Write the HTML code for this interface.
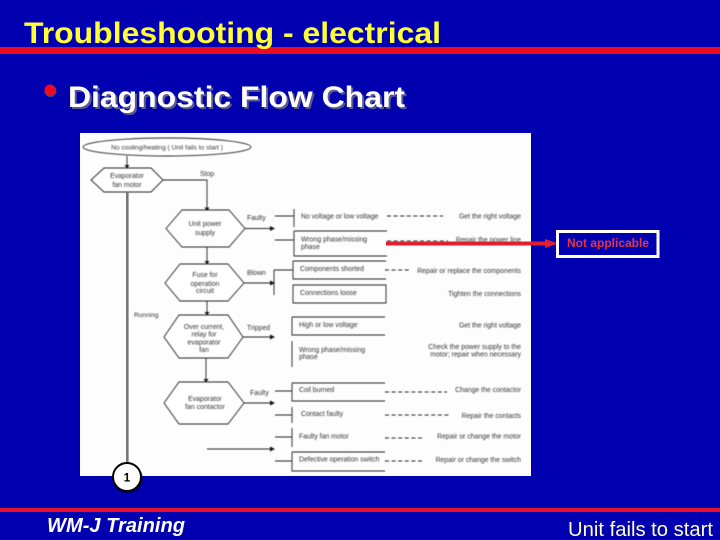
<!DOCTYPE html>
<html><head><meta charset="utf-8"><style>
html,body{margin:0;padding:0;background:#0000b0;width:720px;height:540px;overflow:hidden}
svg{display:block;position:absolute;left:0;top:0}
text{font-family:"Liberation Sans",sans-serif}
#d{filter:blur(0.45px)}
#d text{font-size:6.900px;fill:#333}
#d .r{text-anchor:end}
#d .m{text-anchor:middle}
#d polygon,#d .b{fill:#fff;stroke:#222;stroke-width:.9}
#d path,#d line{stroke:#222;stroke-width:.9;fill:none}
#d .dash{stroke:#222;stroke-dasharray:4 2.6}
#d .ah{fill:#111;stroke:none}
</style></head><body>
<svg width="720" height="540" viewBox="0 0 720 540" xmlns="http://www.w3.org/2000/svg">
<rect width="720" height="540" fill="#0000b0"/>
<rect x="0" y="47" width="720" height="7" fill="#ee0a20"/>
<rect x="0" y="508" width="720" height="4" fill="#e8102c"/>
<text x="24" y="43" font-size="30" font-weight="700" fill="#ffff33" textLength="417" lengthAdjust="spacingAndGlyphs">Troubleshooting - electrical</text>
<circle cx="50.500" cy="91" r="6" fill="#666" fill-opacity=".7"/>
<circle cx="50" cy="90" r="5.500" fill="#f00a1e"/>
<text x="70" y="109" font-size="30" font-weight="700" fill="#5a5a90" textLength="337" lengthAdjust="spacingAndGlyphs">Diagnostic Flow Chart</text>
<text x="68" y="107" font-size="30" font-weight="700" fill="#ffffff" textLength="337" lengthAdjust="spacingAndGlyphs">Diagnostic Flow Chart</text>
<rect x="80" y="133" width="451" height="343" fill="#fdfdfd"/>
<g id="d">
<ellipse class="b" cx="167" cy="147" rx="84" ry="9"/>
<text class="m" x="167" y="149.500" style="font-size:6.600px">No cooling/heating ( Unit fails to start )</text>
<path d="M127 156V166"/><path class="ah" d="M124.500 165h5l-2.500 3.500z"/>
<polygon points="91,180 104,168 151,168 163,180 151,192 104,192"/>
<text class="m" x="127" y="178">Evaporator</text><text class="m" x="127" y="187">fan motor</text>
<text x="200" y="176">Stop</text>
<path d="M163 180H207V208"/><path class="ah" d="M204.500 207.500h5l-2.500 3.500z"/>
<polygon points="166,228.500 182,210 229,210 245,228.500 229,247 182,247"/>
<text class="m" x="205" y="226">Unit power</text><text class="m" x="205" y="235">supply</text>
<path d="M207 247V262"/><path class="ah" d="M204.500 261h5l-2.500 3.500z"/>
<polygon points="165,283 180,264 228,264 244,283 228,301 180,301"/>
<text class="m" x="205" y="277">Fuse for</text><text class="m" x="205" y="286">operation</text><text class="m" x="205" y="293">circuit</text>
<path d="M207 301V313"/><path class="ah" d="M204.500 312h5l-2.500 3.500z"/>
<polygon points="164,337 179,315 228,315 243,337 228,358 179,358"/>
<text class="m" x="204" y="329">Over current,</text><text class="m" x="204" y="336.500">relay for</text><text class="m" x="204" y="344.500">evaporator</text><text class="m" x="204" y="352">fan</text>
<path d="M206 358V380"/><path class="ah" d="M203.500 379h5l-2.500 3.500z"/>
<polygon points="164,403 179,382 228,382 244,403 228,424 179,424"/>
<text class="m" x="205" y="401">Evaporator</text><text class="m" x="205" y="409">fan contactor</text>
<text x="134" y="317" style="font-size:6.600px">Running</text>
<text x="247" y="220">Faulty</text><text x="247" y="275">Blown</text><text x="247" y="330">Tripped</text><text x="250" y="395">Faulty</text>
<path d="M245 228.500H271M244 283H271M243 337H271M244 403H271M207 449H271"/>
<path class="ah" d="M270 226l5 2.500-5 2.500zM270 280.500l5 2.500-5 2.500zM270 334.500l5 2.500-5 2.500zM270 400.500l5 2.500-5 2.500zM270 446.500l5 2.500-5 2.500z"/>
<path d="M275 216H294M294 209V227M275 240H294M294 231H387M294 231V256H387M274 270V295M274 270H293M293 261H386M293 261V279H386"/>
<path d="M293 285H386V303H293Z"/>
<path d="M292 317H385M292 317V335H385M292 341V367"/>
<path d="M275 391H292M292 383H385M292 383V401H385M275 415H292M292 407V423M275 437H292M292 428V447M275 461H292M292 452H385M292 452V471H385"/>
<line class="dash" x1="387" y1="216" x2="443" y2="216"/>
<line class="dash" x1="387" y1="241" x2="448" y2="241"/>
<line class="dash" x1="385" y1="270" x2="410" y2="270"/>
<line class="dash" x1="385" y1="392" x2="447" y2="392"/>
<line class="dash" x1="385" y1="415" x2="451" y2="415"/>
<line class="dash" x1="385" y1="438" x2="424" y2="438"/>
<line class="dash" x1="385" y1="461" x2="424" y2="461"/>
<text x="301" y="218.500">No voltage or low voltage</text>
<text x="301" y="241.500">Wrong phase/missing</text><text x="301" y="249">phase</text>
<text x="300" y="271">Components shorted</text>
<text x="300" y="295">Connections loose</text>
<text x="299" y="327">High or low voltage</text>
<text x="299" y="352">Wrong phase/missing</text><text x="299" y="359">phase</text>
<text x="299" y="392">Coil burned</text>
<text x="301" y="416">Contact faulty</text>
<text x="299" y="438.500">Faulty fan motor</text>
<text x="299" y="461.500">Defective operation switch</text>
<text class="r" x="521" y="218.500">Get the right voltage</text>
<text class="r" x="521" y="242">Repair the power line</text>
<text class="r" x="521" y="273">Repair or replace the components</text>
<text class="r" x="521" y="296">Tighten the connections</text>
<text class="r" x="521" y="327.500">Get the right voltage</text>
<text class="r" x="521" y="349">Check the power supply to the</text>
<text class="r" x="521" y="356.500">motor; repair when necessary</text>
<text class="r" x="521" y="392">Change the contactor</text>
<text class="r" x="521" y="418">Repair the contacts</text>
<text class="r" x="521" y="438.500">Repair or change the motor</text>
<text class="r" x="521" y="462">Repair or change the switch</text>
</g>
<rect x="126" y="192" width="2.600" height="272" fill="#777"/>
<rect x="386" y="241.500" width="160" height="4" fill="#e0202c"/>
<polygon points="545,239 558,243.500 545,248" fill="#e0202c"/>
<rect x="557.500" y="231.500" width="100.500" height="25" fill="#0000b0" stroke="#fff" stroke-width="3"/>
<text x="608" y="247" text-anchor="middle" font-size="12" font-weight="700" fill="#e03848">Not applicable</text>
<circle cx="128" cy="479" r="15" fill="#000050" fill-opacity=".6"/>
<circle cx="127" cy="477" r="14" fill="#fff" stroke="#000" stroke-width="2"/>
<text x="127" y="481.500" text-anchor="middle" font-size="12" font-weight="700" fill="#000">1</text>
<text x="47" y="532" font-size="20" font-weight="700" font-style="italic" fill="#fff" textLength="138" lengthAdjust="spacingAndGlyphs">WM-J Training</text>
<text x="568" y="536" font-size="20" fill="#ffffcc" textLength="145" lengthAdjust="spacingAndGlyphs">Unit fails to start</text>
</svg>
</body></html>
